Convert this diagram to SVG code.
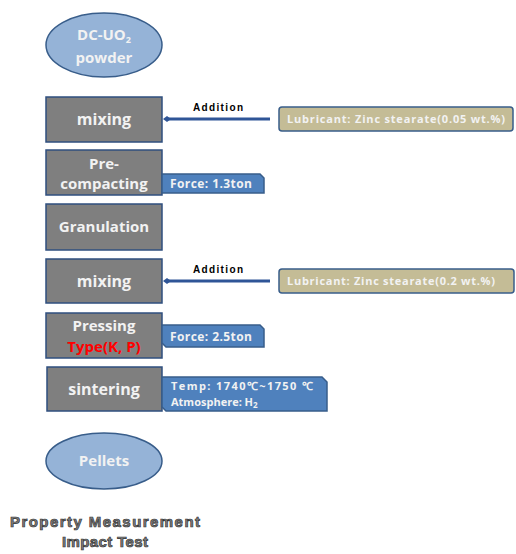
<svg xmlns="http://www.w3.org/2000/svg" width="516" height="554" viewBox="0 0 516 554">
<style>
.box{fill:#7f7f7f;stroke:#2f4f7f;stroke-width:1.5}
.ell{fill:#95b3d7;stroke:#385d8a;stroke-width:1.5}
.t{font-family:"Open Sans","Liberation Sans",sans-serif;font-weight:bold;fill:#f2f2f2;text-anchor:middle}
.lab{fill:#4f81bd;stroke:#385d8a;stroke-width:1.5}
.lub{fill:#c4bc96;stroke:#385d8a;stroke-width:1.5}
.lt{font-family:"Open Sans","Liberation Sans",sans-serif;font-weight:bold;fill:#f2f2f2;font-size:11px}
.ft{font-family:"Open Sans","Liberation Sans",sans-serif;font-weight:bold;fill:#f2f2f2;font-size:12px}
.add{font-family:"Liberation Sans",sans-serif;font-weight:bold;font-size:10px;fill:#000;text-anchor:middle}
.con{stroke:#2f5597;stroke-width:3;fill:none}
</style>
<defs>
<marker id="m" markerWidth="8" markerHeight="8" refX="4" refY="4" markerUnits="userSpaceOnUse">
<path d="M0,4 L4,1 L8,4 L4,7 Z" fill="#2f5597"/>
</marker>
</defs>
<g id="powder"><ellipse class="ell" cx="104" cy="45" rx="58" ry="32"/>
<text class="t" x="104" y="40" font-size="15">DC-UO<tspan font-size="9" dy="3">2</tspan></text>
<text class="t" x="104" y="63" font-size="15">powder</text></g>
<g id="mixing1"><rect class="box" x="46" y="97" width="116" height="45"/>
<text class="t" x="104" y="125" font-size="16">mixing</text></g>
<g id="precompacting"><rect class="box" x="46" y="150" width="116" height="45"/>
<text class="t" x="104" y="169" font-size="15">Pre-</text>
<text class="t" x="104" y="189" font-size="15">compacting</text></g>
<g id="force1"><path class="lab" d="M162,174 H260 L264,178 V193 H162 Z"/>
<text class="ft" x="170" y="188" textLength="82">Force: 1.3ton</text></g>
<g id="granulation"><rect class="box" x="46" y="204" width="116" height="46"/>
<text class="t" x="104" y="232" font-size="15">Granulation</text></g>
<g id="mixing2"><rect class="box" x="46" y="259" width="116" height="44"/>
<text class="t" x="104" y="287" font-size="16">mixing</text></g>
<g id="pressing"><rect class="box" x="46" y="313" width="116" height="45"/>
<text class="t" x="104" y="331" font-size="15">Pressing</text>
<text x="104" y="352" font-size="15" font-weight="bold" fill="#ff0000" text-anchor="middle" font-family="Open Sans,Liberation Sans,sans-serif">Type(K, P)</text></g>
<g id="force2"><path class="lab" d="M162,325 H260 L264,329 V347 H166 L162,343 Z"/>
<text class="ft" x="170" y="341" textLength="82">Force: 2.5ton</text></g>
<g id="sintering"><rect class="box" x="47" y="367" width="115" height="44"/>
<text class="t" x="104" y="395" font-size="16">sintering</text></g>
<g id="conditions"><path class="lab" d="M162,377 H322 L327,382 V411 H166 L162,407 Z"/>
<text class="lt" x="171" y="390" textLength="142">Temp: 1740℃~1750 ℃</text>
<text class="lt" x="171" y="406">Atmosphere: H<tspan font-size="8" dy="2">2</tspan></text></g>
<g id="pellets"><ellipse class="ell" cx="104" cy="461" rx="58" ry="28"/>
<text class="t" x="104" y="466" font-size="15">Pellets</text></g>
<g id="lub1"><rect class="lub" x="279" y="107" width="234" height="24" rx="3"/>
<text class="lt" x="287" y="123" textLength="218">Lubricant: Zinc stearate(0.05 wt.%)</text></g>
<g id="lub2"><rect class="lub" x="279" y="269" width="235" height="24" rx="3"/>
<text class="lt" x="287" y="285" textLength="208">Lubricant: Zinc stearate(0.2 wt.%)</text></g>
<g id="connectors">
<line class="con" x1="270" y1="119" x2="167" y2="119" marker-end="url(#m)"/>
<line class="con" x1="270" y1="281" x2="167" y2="281" marker-end="url(#m)"/>
<text class="add" x="218" y="111" textLength="50">Addition</text>
<text class="add" x="218" y="273" textLength="50">Addition</text>
</g>
<g id="note" font-family="Liberation Sans,sans-serif" font-weight="bold" font-size="15" fill="#7f7f7f" stroke="#333" stroke-width="0.7" text-anchor="middle">
<text x="105" y="527" textLength="190">Property Measurement</text>
<text x="105" y="547" textLength="86">Impact Test</text>
</g>
</svg>
